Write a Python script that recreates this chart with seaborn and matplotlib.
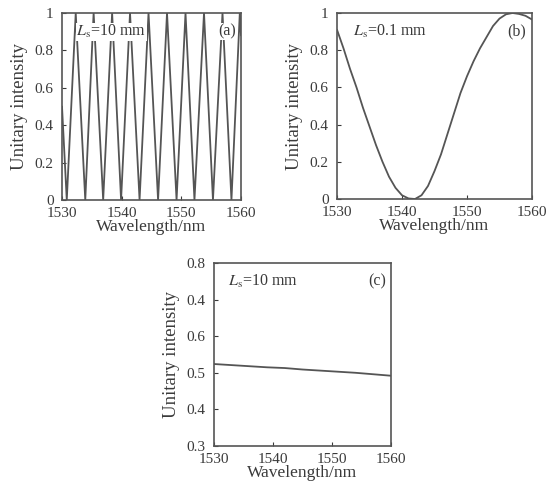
import numpy as np
import pandas as pd
import seaborn as sns
import matplotlib.pyplot as plt

# panel (a): L_s = 10 mm, fast fringes (vertices)
wl_a = [1530.0, 1530.8, 1532.3, 1533.9, 1535.3, 1536.9, 1538.4, 1539.9, 1541.4,
        1543.0, 1544.5, 1546.1, 1547.6, 1549.2, 1550.7, 1552.2, 1553.8, 1555.3,
        1556.9, 1558.4, 1559.8, 1560.0]
int_a = [0.50, 0.0, 1.0, 0.0, 1.0, 0.0, 1.0, 0.0, 1.0,
         0.0, 1.0, 0.0, 1.0, 0.0, 1.0, 0.0, 1.0, 0.0,
         1.0, 0.0, 1.0, 0.88]

# panel (b): L_s = 0.1 mm
wl_b = [1530, 1531, 1532, 1533, 1534, 1535, 1536, 1537, 1538, 1539, 1540,
        1541, 1542, 1543, 1544, 1545, 1546, 1547, 1548, 1549, 1550,
        1551, 1552, 1553, 1554, 1555, 1556, 1557, 1558, 1559, 1560]
int_b = [0.91, 0.81, 0.70, 0.60, 0.49, 0.39, 0.29, 0.20, 0.12, 0.06, 0.02,
         0.003, 0.0, 0.02, 0.07, 0.15, 0.24, 0.35, 0.46, 0.57, 0.66,
         0.74, 0.81, 0.87, 0.93, 0.97, 0.993, 1.0, 0.995, 0.985, 0.965]

# panel (c): L_s = 10 mm, nearly flat
wl_c = [1530, 1533, 1536, 1539, 1542, 1545, 1548, 1551, 1554, 1557, 1560]
int_c = [0.524, 0.521, 0.518, 0.515, 0.513, 0.509, 0.506, 0.503, 0.500, 0.496, 0.492]

x_ticks = [1530, 1540, 1550, 1560]
y_ticks_ab = [0, 0.2, 0.4, 0.6, 0.8, 1]
y_labels_ab = ["0", "0.2", "0.4", "0.6", "0.8", "1"]
y_ticks_c = [0.3, 0.4, 0.5, 0.6, 0.7, 0.8]
y_labels_c = ["0.3", "0.4", "0.5", "0.6", "0.4", "0.8"]

sns.set_style("ticks")
plt.rcParams["font.family"] = ["Liberation Serif", "DejaVu Serif"]
plt.rcParams["mathtext.fontset"] = "stix"
plt.rcParams["font.size"] = 10

ink = "#3a3a3a"
line_col = "#555555"

W, H = 547, 487
fig = plt.figure(figsize=(W / 100, H / 100), dpi=100)


def make_ax(l, r, t, b):
    return fig.add_axes([l / W, 1 - b / H, (r - l) / W, (b - t) / H])


ax_a = make_ax(62, 241, 13, 200)
ax_b = make_ax(337, 532, 13, 199)
ax_c = make_ax(214, 391, 263, 446)

panels = [
    (ax_a, wl_a, int_a, y_ticks_ab, y_labels_ab, (0, 1), r"$L_{\rm s}$=10 mm", "(a)"),
    (ax_b, wl_b, int_b, y_ticks_ab, y_labels_ab, (0, 1), r"$L_{\rm s}$=0.1 mm", "(b)"),
    (ax_c, wl_c, int_c, y_ticks_c, y_labels_c, (0.3, 0.8), r"$L_{\rm s}$=10 mm", "(c)"),
]

for ax, x, y, yt, yl, ylim, note, tag in panels:
    df = pd.DataFrame({"wl": x, "I": y})
    sns.lineplot(data=df, x="wl", y="I", ax=ax, color=line_col, lw=1.3)
    ax.set_xlim(1530, 1560)
    ax.set_ylim(*ylim)
    ax.set_xticks(x_ticks)
    ax.set_yticks(yt)
    ax.set_yticklabels(yl)
    ax.tick_params(direction="in", length=3, width=0.8, colors=ink,
                   labelsize=11)
    ax.tick_params(axis="x", pad=5)
    ax.tick_params(axis="y", pad=6)
    for s in ax.spines.values():
        s.set_color("#555555")
        s.set_linewidth(1.2)
    ax.set_xlabel("Wavelength/nm", color=ink, fontsize=12.5, labelpad=-1)
    ax.set_ylabel("Unitary intensity", color=ink, fontsize=13.5, labelpad=5)
    box = dict(facecolor="white", edgecolor="none", pad=0.5)
    ax.text(0.08, 0.90, note, transform=ax.transAxes, ha="left", va="center",
            color=ink, fontsize=11.5, bbox=box)
    ax.text(0.97, 0.90, tag, transform=ax.transAxes, ha="right", va="center",
            color=ink, fontsize=11.5, bbox=box)

fig.savefig("out.png", dpi=100)
